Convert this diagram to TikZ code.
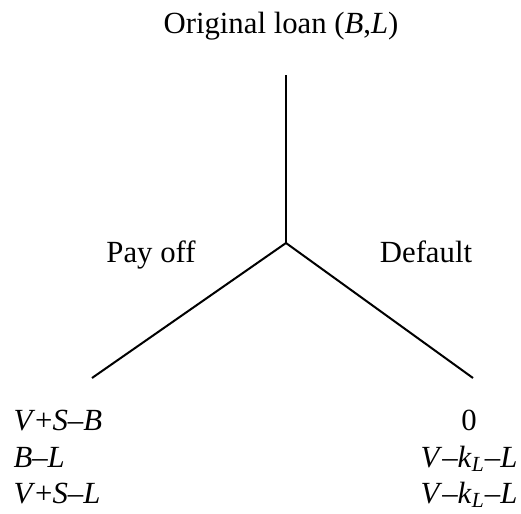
\documentclass[tikz,border=0pt]{standalone}
\usepackage{fontspec}
\setmainfont{Liberation Serif}
\usepackage{tikz}

\tikzset{
  branch/.style={line width=0.8pt},
  lbl/.style={inner sep=0pt,font=\fontsize{12.3}{14}\selectfont},
}

\begin{document}
\begin{tikzpicture}[x=0.4pt,y=-0.4pt]
\useasboundingbox (0,0) rectangle (521,514);
\coordinate (top) at (286,75);
\coordinate (fork) at (286,243);
\coordinate (lleaf) at (92,378);
\coordinate (rleaf) at (473,378);
\draw[branch] (top) -- (fork);
\draw[branch] (fork) -- (lleaf);
\draw[branch] (fork) -- (rleaf);
\node[lbl,anchor=base] (root) at (281,33) {Original loan (\textit{B},\textit{L})};
\node[lbl,anchor=base] (payoff) at (151,262) {Pay off};
\node[lbl,anchor=base] (default) at (426,262) {Default};
\node[lbl,anchor=base west] (pborrower) at (13,430) {\textit{V}+\textit{S}–\textit{B}};
\node[lbl,anchor=base west] (plender) at (13,467) {\textit{B}–\textit{L}};
\node[lbl,anchor=base west] (ptotal) at (13,503) {\textit{V}+\textit{S}–\textit{L}};
\node[lbl,anchor=base] (dborrower) at (469,430) {0};
\node[lbl,anchor=base] (dlender) at (469,467) {\textit{V}–\textit{k}\textsubscript{\textit{L}}–\textit{L}};
\node[lbl,anchor=base] (dtotal) at (469,503) {\textit{V}–\textit{k}\textsubscript{\textit{L}}–\textit{L}};
\end{tikzpicture}
\end{document}
